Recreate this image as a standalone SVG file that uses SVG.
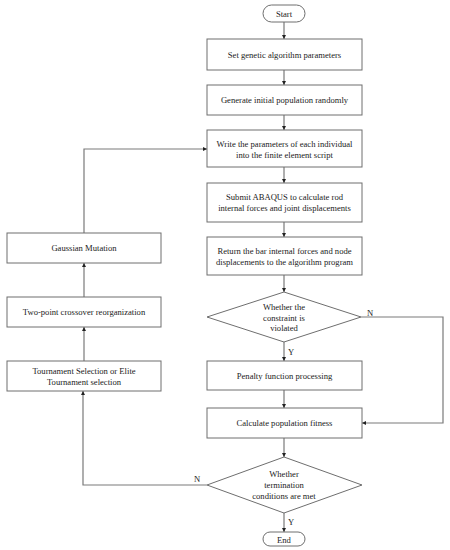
<svg xmlns="http://www.w3.org/2000/svg" width="450" height="550" viewBox="0 0 450 550">
<style>
.box{fill:#fff;stroke:#6e6e6e;stroke-width:1}
.ln{fill:none;stroke:#7a7a7a;stroke-width:1.2}
text{font-family:"Liberation Serif","Times New Roman",serif;font-size:8.6px;fill:#222;text-anchor:middle}
</style>
<defs>
<marker id="ah" viewBox="0 0 6 6" refX="6" refY="3" markerWidth="4" markerHeight="4" orient="auto" markerUnits="userSpaceOnUse">
<path d="M0,0 L6,3 L0,6 z" fill="#222"/>
</marker>
</defs>
<rect width="450" height="550" fill="#fff"/>
<g id="connectors">
<line class="ln" x1="284" y1="22" x2="284" y2="39" marker-end="url(#ah)"/>
<line class="ln" x1="284" y1="70" x2="284" y2="85" marker-end="url(#ah)"/>
<line class="ln" x1="284" y1="115" x2="284" y2="130" marker-end="url(#ah)"/>
<line class="ln" x1="284" y1="167" x2="284" y2="183" marker-end="url(#ah)"/>
<line class="ln" x1="284" y1="222" x2="284" y2="237" marker-end="url(#ah)"/>
<line class="ln" x1="284" y1="275" x2="284" y2="292" marker-end="url(#ah)"/>
<line class="ln" x1="284" y1="342" x2="284" y2="361" marker-end="url(#ah)"/>
<line class="ln" x1="284" y1="390" x2="284" y2="408" marker-end="url(#ah)"/>
<line class="ln" x1="284" y1="438" x2="284" y2="457" marker-end="url(#ah)"/>
<line class="ln" x1="284" y1="513" x2="284" y2="532" marker-end="url(#ah)"/>
<polyline class="ln" points="361,317 443,317 443,423 362,423" marker-end="url(#ah)"/>
<polyline class="ln" points="207,485 83,485 83,391" marker-end="url(#ah)"/>
<line class="ln" x1="84" y1="361" x2="84" y2="327" marker-end="url(#ah)"/>
<line class="ln" x1="84" y1="297" x2="84" y2="263" marker-end="url(#ah)"/>
<polyline class="ln" points="84,233 84,149 207,149" marker-end="url(#ah)"/>
<text x="370" y="316">N</text>
<text x="291" y="355">Y</text>
<text x="197" y="482">N</text>
<text x="291" y="525">Y</text>
</g>
<g id="start"><rect class="box" x="263" y="5" width="42" height="17" rx="8.5"/><text x="284" y="17">Start</text></g>
<g id="set-params"><rect class="box" x="207" y="39" width="155" height="31"/><text x="284.5" y="58">Set genetic algorithm parameters</text></g>
<g id="generate"><rect class="box" x="207" y="85" width="155" height="30"/><text x="284.5" y="103">Generate initial population randomly</text></g>
<g id="write"><rect class="box" x="207" y="130" width="155" height="37"/><text x="284.5" y="147">Write the parameters of each individual</text><text x="284.5" y="158">into the finite element script</text></g>
<g id="submit"><rect class="box" x="207" y="183" width="155" height="39"/><text x="284.5" y="200">Submit ABAQUS  to calculate rod</text><text x="284.5" y="211">internal forces and joint displacements</text></g>
<g id="return"><rect class="box" x="207" y="237" width="155" height="38"/><text x="284.5" y="254">Return the bar internal forces and node</text><text x="284.5" y="265">displacements to the algorithm program</text></g>
<g id="constraint"><polygon class="box" points="284,292 361,317 284,342 207,317"/><text x="284" y="310">Whether the</text><text x="284" y="320.5">constraint is</text><text x="284" y="331">violated</text></g>
<g id="penalty"><rect class="box" x="207" y="361" width="155" height="29"/><text x="284.5" y="379">Penalty function processing</text></g>
<g id="fitness"><rect class="box" x="207" y="408" width="155" height="30"/><text x="284.5" y="426">Calculate population  fitness</text></g>
<g id="termination"><polygon class="box" points="284,457 362,485 284,513 207,485"/><text x="284" y="477">Whether</text><text x="284" y="488">termination</text><text x="284" y="499">conditions are met</text></g>
<g id="end"><rect class="box" x="263" y="532" width="42" height="14" rx="7"/><text x="284" y="542.5">End</text></g>
<g id="gaussian"><rect class="box" x="7" y="233" width="154" height="30"/><text x="84" y="251">Gaussian Mutation</text></g>
<g id="crossover"><rect class="box" x="7" y="297" width="154" height="30"/><text x="84" y="315">Two-point crossover reorganization</text></g>
<g id="selection"><rect class="box" x="7" y="361" width="154" height="30"/><text x="84" y="374">Tournament Selection or Elite</text><text x="84" y="385">Tournament selection</text></g>
</svg>
